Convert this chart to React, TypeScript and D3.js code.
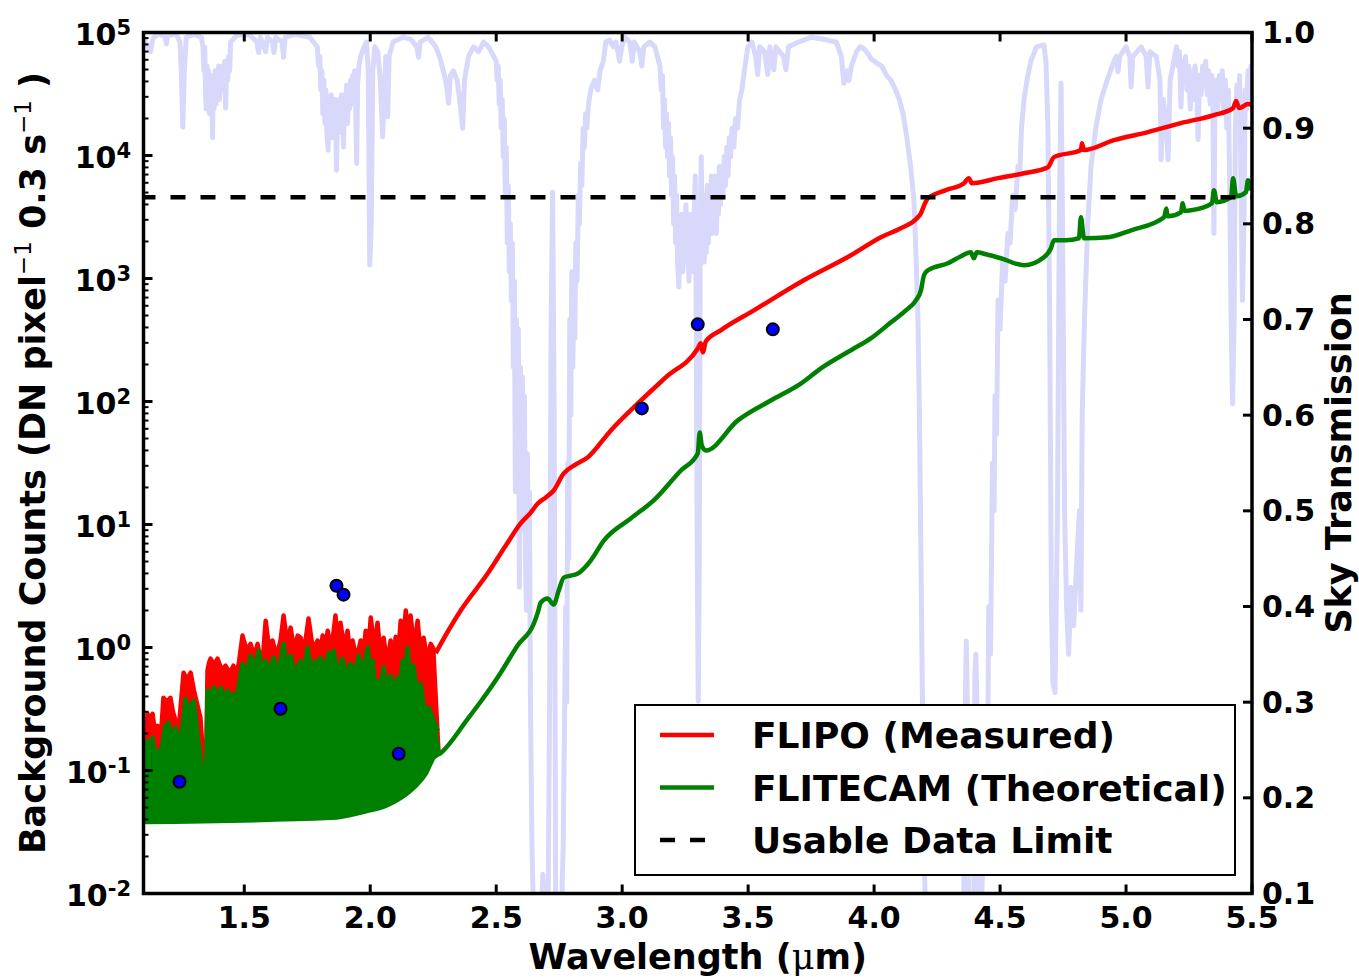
import React from 'react';
import * as d3 from 'd3';

type P = [number, number];

// ---------- axis ticks ----------
const xTicks = [1.5, 2.0, 2.5, 3.0, 3.5, 4.0, 4.5, 5.0, 5.5];
const xTickLabels = ['1.5', '2.0', '2.5', '3.0', '3.5', '4.0', '4.5', '5.0', '5.5'];
const yExponents = [-2, -1, 0, 1, 2, 3, 4, 5];
const rightTicks = [0.1, 0.2, 0.3, 0.4, 0.5, 0.6, 0.7, 0.8, 0.9, 1.0];
const rightTickLabels = ['0.1', '0.2', '0.3', '0.4', '0.5', '0.6', '0.7', '0.8', '0.9', '1.0'];
const legendLabels = ['FLIPO (Measured)', 'FLITECAM (Theoretical)', 'Usable Data Limit'];

// ---------- data ----------
const usableLimit = 4580;

// narrow-band filter measurements (wavelength um, counts)
const filterPoints: P[] = [
  [1.243, 0.081], [1.644, 0.318], [1.866, 3.18], [1.894, 2.69], [2.113, 0.137],
  [3.078, 87.9], [3.300, 424], [3.598, 386],
];

// sky transmission (wavelength um, transmission)
const skyTransmission: P[] = [
  [1.100, 0.995], [1.108, 0.990], [1.118, 0.985], [1.128, 0.980], [1.134, 0.990], [1.140, 0.995],
  [1.160, 0.998], [1.185, 0.996], [1.191, 0.988], [1.197, 0.997], [1.230, 0.998], [1.245, 0.990],
  [1.250, 0.960], [1.256, 0.901], [1.262, 0.960], [1.270, 0.995], [1.300, 0.998], [1.330, 0.995],
  [1.336, 0.985], [1.340, 0.960], [1.343, 0.985], [1.346, 0.940], [1.349, 0.920], [1.352, 0.965],
  [1.355, 0.930], [1.358, 0.960], [1.361, 0.915], [1.364, 0.950], [1.367, 0.925], [1.370, 0.955],
  [1.374, 0.890], [1.377, 0.945], [1.380, 0.920], [1.384, 0.960], [1.388, 0.925], [1.391, 0.955],
  [1.395, 0.935], [1.398, 0.965], [1.402, 0.930], [1.406, 0.960], [1.410, 0.940], [1.414, 0.965],
  [1.418, 0.945], [1.422, 0.970], [1.426, 0.921], [1.430, 0.965], [1.434, 0.950], [1.438, 0.975],
  [1.442, 0.960], [1.446, 0.990], [1.470, 0.997], [1.520, 0.998],
  [1.550, 0.990], [1.557, 0.979], [1.564, 0.995], [1.585, 0.980], [1.592, 0.995], [1.612, 0.990],
  [1.618, 0.979], [1.625, 0.995], [1.650, 0.990], [1.656, 0.974], [1.662, 0.995], [1.700, 0.998],
  [1.760, 0.995], [1.790, 0.985], [1.795, 0.965], [1.800, 0.975], [1.804, 0.940], [1.808, 0.960],
  [1.812, 0.915], [1.816, 0.950], [1.820, 0.905], [1.824, 0.940], [1.828, 0.895], [1.833, 0.877],
  [1.837, 0.930], [1.841, 0.900], [1.845, 0.935], [1.849, 0.890], [1.853, 0.925], [1.857, 0.900],
  [1.861, 0.930], [1.866, 0.856], [1.870, 0.915], [1.874, 0.895], [1.878, 0.930], [1.882, 0.905],
  [1.886, 0.935], [1.890, 0.910], [1.894, 0.880], [1.898, 0.935], [1.902, 0.915], [1.906, 0.945],
  [1.910, 0.905], [1.914, 0.940], [1.918, 0.920], [1.922, 0.950], [1.926, 0.925], [1.930, 0.955],
  [1.934, 0.935], [1.938, 0.960], [1.942, 0.930], [1.946, 0.863], [1.950, 0.945], [1.955, 0.965],
  [1.962, 0.975], [1.975, 0.985],
  [1.985, 0.990], [1.992, 0.960], [1.998, 0.757], [2.004, 0.800], [2.010, 0.960], [2.018, 0.985],
  [2.030, 0.980], [2.040, 0.950], [2.049, 0.891], [2.056, 0.940], [2.062, 0.975], [2.069, 0.912],
  [2.075, 0.975], [2.090, 0.990], [2.130, 0.995], [2.160, 0.993], [2.185, 0.985], [2.192, 0.974],
  [2.198, 0.990], [2.230, 0.995], [2.260, 0.985], [2.275, 0.975], [2.290, 0.960], [2.300, 0.950],
  [2.311, 0.926], [2.318, 0.955], [2.330, 0.960], [2.345, 0.950], [2.355, 0.930], [2.367, 0.900],
  [2.374, 0.950], [2.390, 0.975], [2.410, 0.985], [2.430, 0.980], [2.450, 0.990], [2.470, 0.985],
  [2.490, 0.975], [2.500, 0.970], [2.504, 0.950], [2.508, 0.965], [2.512, 0.925], [2.516, 0.950],
  [2.520, 0.900], [2.524, 0.930], [2.528, 0.870], [2.532, 0.910], [2.536, 0.830], [2.540, 0.880],
  [2.544, 0.780], [2.548, 0.840], [2.552, 0.750], [2.556, 0.800], [2.560, 0.720], [2.564, 0.780],
  [2.568, 0.650], [2.572, 0.740], [2.576, 0.520], [2.580, 0.700], [2.584, 0.600], [2.588, 0.690],
  [2.592, 0.420], [2.596, 0.650], [2.600, 0.520], [2.604, 0.640], [2.608, 0.480], [2.612, 0.620],
  [2.616, 0.450], [2.620, 0.396], [2.624, 0.560], [2.628, 0.430], [2.632, 0.520], [2.636, 0.300],
  [2.642, 0.150], [2.650, 0.050],
  [2.665, 0.080], [2.675, 0.050], [2.685, 0.120], [2.695, 0.050], [2.705, 0.050], [2.712, 0.300],
  [2.718, 0.700], [2.724, 0.833], [2.730, 0.600], [2.736, 0.100], [2.745, 0.050], [2.756, 0.050],
  [2.766, 0.150], [2.776, 0.400], [2.780, 0.300], [2.784, 0.550], [2.788, 0.450], [2.792, 0.700],
  [2.796, 0.600], [2.800, 0.750], [2.804, 0.650], [2.808, 0.720], [2.812, 0.680], [2.816, 0.780],
  [2.821, 0.740], [2.826, 0.830], [2.830, 0.800], [2.835, 0.863], [2.840, 0.840], [2.845, 0.900],
  [2.850, 0.880], [2.855, 0.915], [2.860, 0.900], [2.865, 0.922], [2.875, 0.940], [2.890, 0.950],
  [2.903, 0.940], [2.912, 0.960], [2.925, 0.970], [2.935, 0.990],
  [2.950, 0.992], [2.965, 0.985], [2.975, 0.990], [2.990, 0.970], [2.998, 0.985], [3.010, 0.995],
  [3.030, 0.990], [3.040, 0.970], [3.048, 0.990], [3.070, 0.980], [3.078, 0.965], [3.086, 0.985],
  [3.110, 0.990], [3.130, 0.985], [3.150, 0.965], [3.155, 0.940], [3.160, 0.955], [3.164, 0.900],
  [3.168, 0.930], [3.172, 0.880], [3.176, 0.915], [3.180, 0.870], [3.184, 0.905], [3.188, 0.850],
  [3.192, 0.890], [3.196, 0.830], [3.200, 0.870], [3.204, 0.800], [3.208, 0.850], [3.212, 0.780],
  [3.216, 0.830], [3.220, 0.760], [3.225, 0.734], [3.229, 0.800], [3.233, 0.760], [3.237, 0.810],
  [3.241, 0.750], [3.245, 0.800], [3.249, 0.760], [3.253, 0.820], [3.257, 0.770], [3.261, 0.810],
  [3.265, 0.740], [3.269, 0.800], [3.273, 0.760], [3.277, 0.810], [3.281, 0.750], [3.285, 0.800],
  [3.290, 0.850], [3.294, 0.700], [3.298, 0.450], [3.302, 0.301], [3.306, 0.450], [3.310, 0.800],
  [3.314, 0.870], [3.318, 0.780], [3.322, 0.830], [3.326, 0.760], [3.330, 0.820], [3.334, 0.770],
  [3.338, 0.840], [3.342, 0.780], [3.346, 0.830], [3.350, 0.790], [3.354, 0.850], [3.358, 0.790],
  [3.362, 0.840], [3.366, 0.800], [3.370, 0.850], [3.374, 0.790], [3.378, 0.845], [3.382, 0.810],
  [3.386, 0.860], [3.390, 0.820], [3.395, 0.860], [3.400, 0.830], [3.405, 0.870], [3.410, 0.840],
  [3.415, 0.880], [3.420, 0.850], [3.425, 0.890], [3.430, 0.870], [3.436, 0.900], [3.443, 0.880],
  [3.450, 0.910], [3.458, 0.900], [3.466, 0.930], [3.475, 0.940], [3.485, 0.960], [3.499, 0.985],
  [3.515, 0.990], [3.530, 0.975], [3.538, 0.956],
  [3.546, 0.985], [3.565, 0.980], [3.578, 0.956], [3.586, 0.985], [3.602, 0.961], [3.610, 0.985],
  [3.640, 0.975], [3.650, 0.961], [3.660, 0.985], [3.700, 0.990], [3.750, 0.995], [3.800, 0.993],
  [3.850, 0.990], [3.870, 0.975], [3.880, 0.947], [3.890, 0.960], [3.900, 0.950], [3.910, 0.965],
  [3.930, 0.980], [3.945, 0.985], [3.960, 0.983], [3.975, 0.978], [3.990, 0.972], [4.010, 0.968],
  [4.030, 0.965], [4.050, 0.955], [4.067, 0.950], [4.085, 0.940], [4.100, 0.930], [4.115, 0.915],
  [4.130, 0.890], [4.145, 0.860], [4.158, 0.825], [4.166, 0.770], [4.174, 0.700], [4.180, 0.600],
  [4.186, 0.450], [4.192, 0.300], [4.198, 0.150], [4.206, 0.050], [4.260, 0.050], [4.320, 0.050],
  [4.355, 0.050], [4.362, 0.300], [4.366, 0.364], [4.370, 0.300], [4.376, 0.050], [4.395, 0.050],
  [4.400, 0.330], [4.404, 0.350], [4.408, 0.300], [4.414, 0.050], [4.425, 0.080], [4.440, 0.200],
  [4.448, 0.150], [4.455, 0.400], [4.462, 0.350], [4.470, 0.550], [4.476, 0.500], [4.480, 0.620],
  [4.486, 0.580], [4.492, 0.720], [4.500, 0.690], [4.510, 0.760], [4.520, 0.740], [4.531, 0.790],
  [4.540, 0.780], [4.550, 0.830], [4.560, 0.815], [4.571, 0.860], [4.578, 0.850], [4.585, 0.900],
  [4.595, 0.930], [4.610, 0.955], [4.623, 0.971],
  [4.645, 0.985], [4.674, 0.987], [4.682, 0.970], [4.690, 0.900], [4.697, 0.700], [4.704, 0.400],
  [4.710, 0.320], [4.718, 0.310], [4.728, 0.500], [4.735, 0.800], [4.742, 0.947], [4.748, 0.800],
  [4.756, 0.500], [4.764, 0.400], [4.772, 0.350], [4.782, 0.420], [4.792, 0.380], [4.805, 0.450],
  [4.815, 0.500], [4.821, 0.396], [4.826, 0.600], [4.835, 0.700], [4.848, 0.800], [4.861, 0.860],
  [4.880, 0.900], [4.901, 0.930], [4.925, 0.950], [4.952, 0.970], [4.962, 0.975], [4.968, 0.959],
  [4.975, 0.975], [5.000, 0.985], [5.015, 0.975], [5.020, 0.943], [5.027, 0.975], [5.060, 0.985],
  [5.080, 0.975], [5.087, 0.943], [5.095, 0.980], [5.120, 0.975], [5.135, 0.950], [5.139, 0.867],
  [5.148, 0.930], [5.160, 0.900], [5.167, 0.867], [5.175, 0.950], [5.200, 0.985], [5.206, 0.965],
  [5.212, 0.980], [5.218, 0.922], [5.224, 0.970], [5.230, 0.955], [5.236, 0.975], [5.242, 0.940],
  [5.248, 0.965], [5.255, 0.920], [5.262, 0.960], [5.268, 0.930], [5.274, 0.965], [5.280, 0.945],
  [5.286, 0.888], [5.292, 0.955], [5.298, 0.935], [5.304, 0.965], [5.310, 0.945], [5.316, 0.970],
  [5.322, 0.935], [5.328, 0.960], [5.334, 0.925], [5.340, 0.955], [5.345, 0.920], [5.349, 0.790],
  [5.353, 0.930], [5.358, 0.950], [5.364, 0.920], [5.370, 0.955], [5.376, 0.930], [5.382, 0.960],
  [5.388, 0.915], [5.394, 0.950], [5.400, 0.900], [5.406, 0.940], [5.411, 0.850], [5.417, 0.700],
  [5.423, 0.612], [5.429, 0.700], [5.434, 0.900], [5.440, 0.945], [5.446, 0.920], [5.451, 0.955],
  [5.456, 0.850], [5.462, 0.720], [5.468, 0.800], [5.473, 0.940], [5.478, 0.920], [5.484, 0.960],
  [5.490, 0.930], [5.496, 0.965], [5.500, 0.950],
];

// FLIPO measured: spiky upper envelope in the near-IR band region
const flipoSpiky: P[] = [
  [1.100, 0.159], [1.108, 0.12], [1.116, 0.289], [1.126, 0.26], [1.136, 0.289], [1.146, 0.20],
  [1.156, 0.231], [1.168, 0.174], [1.179, 0.390], [1.193, 0.36], [1.207, 0.390], [1.217, 0.30],
  [1.227, 0.254], [1.239, 0.210], [1.259, 0.624], [1.273, 0.55], [1.287, 0.624], [1.300, 0.45],
  [1.310, 0.369], [1.326, 0.268], [1.338, 0.120], [1.346, 0.043], [1.354, 0.647], [1.360, 0.75],
  [1.366, 0.811], [1.380, 0.72], [1.394, 0.811], [1.410, 0.66], [1.426, 0.711], [1.442, 0.62],
  [1.457, 0.711], [1.467, 0.60], [1.477, 0.711], [1.493, 1.25], [1.509, 0.95], [1.525, 1.07],
  [1.539, 0.85], [1.553, 1.07], [1.563, 0.80], [1.573, 0.781], [1.585, 1.65], [1.598, 1.0],
  [1.612, 1.14], [1.628, 0.85], [1.644, 1.14], [1.656, 1.82], [1.670, 1.1], [1.684, 1.45],
  [1.698, 0.95], [1.712, 1.25], [1.724, 1.20], [1.734, 0.9], [1.743, 1.14], [1.755, 1.72],
  [1.773, 0.95], [1.791, 1.14], [1.801, 0.85], [1.811, 1.25], [1.821, 0.9], [1.831, 1.37],
  [1.846, 0.95], [1.862, 1.82], [1.872, 1.1], [1.882, 1.59], [1.896, 1.0], [1.910, 1.37],
  [1.920, 0.85], [1.930, 1.14], [1.946, 0.8], [1.962, 1.14], [1.972, 0.85], [1.982, 1.37],
  [1.992, 0.9], [2.002, 1.75], [2.016, 1.0], [2.029, 1.59], [2.041, 0.85], [2.053, 1.20],
  [2.067, 0.75], [2.081, 1.14], [2.091, 0.8], [2.101, 1.22], [2.111, 0.9], [2.121, 1.65],
  [2.131, 1.1], [2.141, 2.0], [2.150, 1.1], [2.160, 1.82], [2.174, 1.0], [2.188, 1.65],
  [2.200, 0.9], [2.212, 1.20], [2.226, 0.8], [2.240, 1.07], [2.260, 0.90],
];

// FLIPO measured: smooth thermal part
const flipoSmooth: P[] = [
  [2.280, 1.07], [2.359, 2.00], [2.466, 3.99], [2.538, 6.74], [2.597, 10.2], [2.637, 12.5],
  [2.665, 14.8], [2.697, 16.6], [2.728, 18.9], [2.768, 26.0], [2.816, 30.8], [2.863, 35.1],
  [2.955, 58.2], [3.062, 96.4], [3.173, 157], [3.300, 270], [3.312, 297], [3.320, 251],
  [3.332, 308], [3.391, 379], [3.523, 551], [3.721, 968], [3.908, 1545], [4.027, 2166],
  [4.106, 2564], [4.166, 3034], [4.186, 3394], [4.202, 4090], [4.214, 4498], [4.285, 5224],
  [4.357, 5957], [4.376, 6544], [4.388, 5957], [4.492, 6544], [4.595, 7180], [4.690, 8040],
  [4.714, 9700], [4.821, 11060], [4.825, 12600], [4.833, 11060], [4.952, 13330], [5.087, 15490],
  [5.218, 18340], [5.349, 21320], [5.425, 24290], [5.437, 27700], [5.449, 24290], [5.484, 26180],
  [5.500, 25700],
];

// FLITECAM theoretical: spiky upper envelope
const flitecamSpiky: P[] = [
  [1.100, 0.109], [1.108, 0.09], [1.116, 0.174], [1.126, 0.15], [1.136, 0.185], [1.146, 0.12],
  [1.156, 0.145], [1.168, 0.137], [1.187, 0.231], [1.193, 0.20], [1.199, 0.244], [1.213, 0.18],
  [1.227, 0.222], [1.247, 0.159], [1.267, 0.383], [1.283, 0.30], [1.299, 0.369], [1.318, 0.174],
  [1.334, 0.099], [1.346, 0.043], [1.354, 0.445], [1.366, 0.40], [1.378, 0.471], [1.392, 0.40],
  [1.406, 0.471], [1.420, 0.38], [1.434, 0.445], [1.446, 0.36], [1.457, 0.421], [1.469, 0.369],
  [1.493, 0.738], [1.509, 0.60], [1.525, 0.857], [1.541, 0.65], [1.557, 0.942], [1.571, 0.62],
  [1.585, 0.781], [1.600, 0.60], [1.616, 0.826], [1.636, 0.62], [1.656, 1.07], [1.670, 0.65],
  [1.684, 0.857], [1.704, 0.60], [1.724, 0.781], [1.738, 0.60], [1.751, 0.996], [1.767, 0.62],
  [1.783, 0.781], [1.793, 0.60], [1.803, 0.826], [1.819, 0.62], [1.835, 0.908], [1.845, 0.65],
  [1.855, 0.942], [1.872, 0.60], [1.890, 0.811], [1.906, 0.58], [1.922, 0.738], [1.938, 0.60],
  [1.954, 0.857], [1.972, 0.62], [1.990, 0.996], [2.000, 0.6], [2.009, 0.781], [2.019, 0.45],
  [2.029, 0.537], [2.041, 0.45], [2.053, 0.685], [2.067, 0.45], [2.081, 0.589], [2.095, 0.42],
  [2.109, 0.568], [2.119, 0.50], [2.129, 0.781], [2.139, 0.60], [2.148, 0.996], [2.160, 0.55],
  [2.172, 0.711], [2.186, 0.42], [2.200, 0.507], [2.216, 0.30], [2.232, 0.324], [2.252, 0.254],
  [2.268, 0.210],
];

// common floor of the spiky region
const flitecamFloor: P[] = [
  [1.100, 0.0382], [1.843, 0.0412], [1.990, 0.047], [2.061, 0.0515], [2.121, 0.0599],
  [2.180, 0.075], [2.220, 0.094], [2.252, 0.127], [2.280, 0.139],
];

// FLITECAM theoretical: smooth thermal part
const flitecamSmooth: P[] = [
  [2.280, 0.139], [2.387, 0.263], [2.438, 0.362], [2.518, 0.624], [2.585, 1.04], [2.649, 1.56],
  [2.665, 1.92], [2.677, 2.32], [2.704, 2.50], [2.728, 2.23], [2.748, 2.90], [2.768, 3.70],
  [2.796, 3.84], [2.824, 3.99], [2.875, 5.09], [2.927, 7.40], [3.034, 11.2], [3.125, 15.7],
  [3.233, 27.5], [3.300, 37.8], [3.308, 56.0], [3.316, 44.0], [3.332, 40.0], [3.459, 70.2],
  [3.590, 102], [3.709, 140], [3.789, 186], [3.908, 261], [3.987, 326], [4.067, 440],
  [4.126, 551], [4.166, 665], [4.186, 801], [4.198, 1062], [4.214, 1167], [4.293, 1330],
  [4.345, 1517], [4.384, 1634], [4.396, 1462], [4.408, 1634], [4.444, 1574], [4.503, 1462],
  [4.595, 1282], [4.674, 1489], [4.702, 1762], [4.714, 2046], [4.762, 2046], [4.813, 2125],
  [4.821, 3150], [4.833, 2125], [4.929, 2166], [5.020, 2466], [5.151, 3150], [5.160, 3700],
  [5.165, 3200], [5.218, 3450], [5.225, 4100], [5.232, 3550], [5.258, 3590], [5.341, 4090],
  [5.349, 5224], [5.360, 4170], [5.417, 4583], [5.425, 6544], [5.437, 4670], [5.476, 5035],
  [5.484, 6300], [5.496, 5224],
];

const FONT = "'DejaVu Sans', 'Liberation Sans', sans-serif";

export default function App() {
  const L = 143.5, R = 1252, T = 32.5, B = 893.5;
  const x = d3.scaleLinear().domain([1.1, 5.5]).range([L, R]);
  const y = d3.scaleLog().domain([1e-2, 1e5]).range([B, T]);
  const yR = d3.scaleLinear().domain([0.1, 1.0]).range([B, T]);

  const line = d3.line<P>().x(d => x(d[0])).y(d => y(d[1]));
  const smooth = d3.line<P>().x(d => x(d[0])).y(d => y(d[1])).curve(d3.curveMonotoneX);
  const skyLine = d3.line<P>().x(d => x(d[0])).y(d => yR(d[1]));

  const floorRev = [...flitecamFloor].reverse();
  const redFill = line([...flipoSpiky, ...floorRev]) + 'Z';
  const greenFill = line([...flitecamSpiky, ...floorRev]) + 'Z';
  const redSpikyLine = line(flipoSpiky) as string;
  const greenSpikyLine = line(flitecamSpiky) as string;
  const redSmoothLine = smooth([flipoSpiky[flipoSpiky.length - 1], ...flipoSmooth]) as string;
  // green continuum: the floor of the band region running into the thermal part
  const greenSmoothLine = smooth([...flitecamFloor.slice(0, -1), ...flitecamSmooth]) as string;

  const minor: number[] = [];
  for (let e = -2; e < 5; e++) for (let m = 2; m <= 9; m++) minor.push(m * Math.pow(10, e));

  const legX = 635, legY = 705, legW = 600, legH = 170;
  const legendColors = ['#ff0000', '#008000', '#000000'];

  return (
    <svg width={1359} height={979} style={{ position: 'absolute', left: 0, top: 0, background: '#fff' }}
      fontFamily={FONT} fontWeight="bold">
      <defs>
        <clipPath id="plotClip">
          <rect x={L} y={T} width={R - L} height={B - T} />
        </clipPath>
      </defs>
      <rect x={0} y={0} width={1359} height={979} fill="#fff" />
      <g clipPath="url(#plotClip)">
        <path d={skyLine(skyTransmission) as string} fill="none" stroke="#d8d8fb" strokeWidth={5}
          strokeLinejoin="round" />
        <path d={redFill} fill="#ff0000" stroke="none" />
        <path d={redSpikyLine} fill="none" stroke="#ff0000" strokeWidth={4.5} strokeLinejoin="round" />
        <path d={redSmoothLine} fill="none" stroke="#ff0000" strokeWidth={4.5} strokeLinejoin="round" />
        <path d={greenFill} fill="#008000" stroke="none" />
        <path d={greenSpikyLine} fill="none" stroke="#008000" strokeWidth={4.5} strokeLinejoin="round" />
        <path d={greenSmoothLine} fill="none" stroke="#008000" strokeWidth={4.5} strokeLinejoin="round" />
        <line x1={x(1.1)} x2={x(5.5)} y1={y(usableLimit)} y2={y(usableLimit)} stroke="#000"
          strokeWidth={4.5} strokeDasharray="15 15" strokeDashoffset={3} />
        {filterPoints.map((d, i) => (
          <circle key={i} cx={x(d[0])} cy={y(d[1])} r={6} fill="#0000ff" stroke="#000" strokeWidth={2} />
        ))}
      </g>

      {/* ticks */}
      {xTicks.map((t, i) => (
        <g key={'xt' + i}>
          <line x1={x(t)} x2={x(t)} y1={B} y2={B - 9} stroke="#000" strokeWidth={3} />
          <line x1={x(t)} x2={x(t)} y1={T} y2={T + 9} stroke="#000" strokeWidth={3} />
          <text x={x(t)} y={928} textAnchor="middle" fontSize={30}>{xTickLabels[i]}</text>
        </g>
      ))}
      {yExponents.map(e => (
        <g key={'yt' + e}>
          <line x1={L} x2={L + 9} y1={y(Math.pow(10, e))} y2={y(Math.pow(10, e))} stroke="#000" strokeWidth={3} />
          <text x={131} y={y(Math.pow(10, e)) + 12} textAnchor="end" fontSize={30}>
            10<tspan dy={-10} fontSize={21}>{e}</tspan>
          </text>
        </g>
      ))}
      {minor.map((v, i) => (
        <line key={'ym' + i} x1={L} x2={L + 5} y1={y(v)} y2={y(v)} stroke="#000" strokeWidth={2} />
      ))}
      {rightTicks.map((t, i) => (
        <g key={'rt' + i}>
          <line x1={R} x2={R - 9} y1={yR(t)} y2={yR(t)} stroke="#000" strokeWidth={3} />
          <text x={1262} y={yR(t) + 10.5} textAnchor="start" fontSize={30}>{rightTickLabels[i]}</text>
        </g>
      ))}

      {/* spines */}
      <rect x={L} y={T} width={R - L} height={B - T} fill="none" stroke="#000" strokeWidth={3.5} />

      {/* axis labels */}
      <text x={(L + R) / 2} y={969} textAnchor="middle" fontSize={35}>
        Wavelength (<tspan fontWeight="normal" fontFamily="'DejaVu Serif', serif">μ</tspan>m)
      </text>
      <text transform={`translate(45, ${(T + B) / 2}) rotate(-90)`} textAnchor="middle" fontSize={35}>
        Background Counts (DN pixel
        <tspan dy={-14} fontSize={23} fontWeight="normal">−1</tspan>
        <tspan dy={14}> 0.3 s</tspan>
        <tspan dy={-14} fontSize={23} fontWeight="normal">−1</tspan>
        <tspan dy={14}> )</tspan>
      </text>
      <text transform={`translate(1351, ${(T + B) / 2}) rotate(-90)`} textAnchor="middle" fontSize={35}>
        Sky Transmission
      </text>

      {/* legend */}
      <rect x={legX} y={legY} width={legW} height={legH} fill="#fff" stroke="#000" strokeWidth={2} />
      {legendLabels.map((lab, i) => (
        <g key={'lg' + i}>
          <line x1={legX + 25} x2={legX + 79} y1={legY + 30 + i * 52.5} y2={legY + 30 + i * 52.5}
            stroke={legendColors[i]} strokeWidth={4.5} strokeDasharray={i === 2 ? '15 15' : undefined} />
          <text x={legX + 117} y={legY + 43 + i * 52.5} fontSize={36}>{lab}</text>
        </g>
      ))}
    </svg>
  );
}
